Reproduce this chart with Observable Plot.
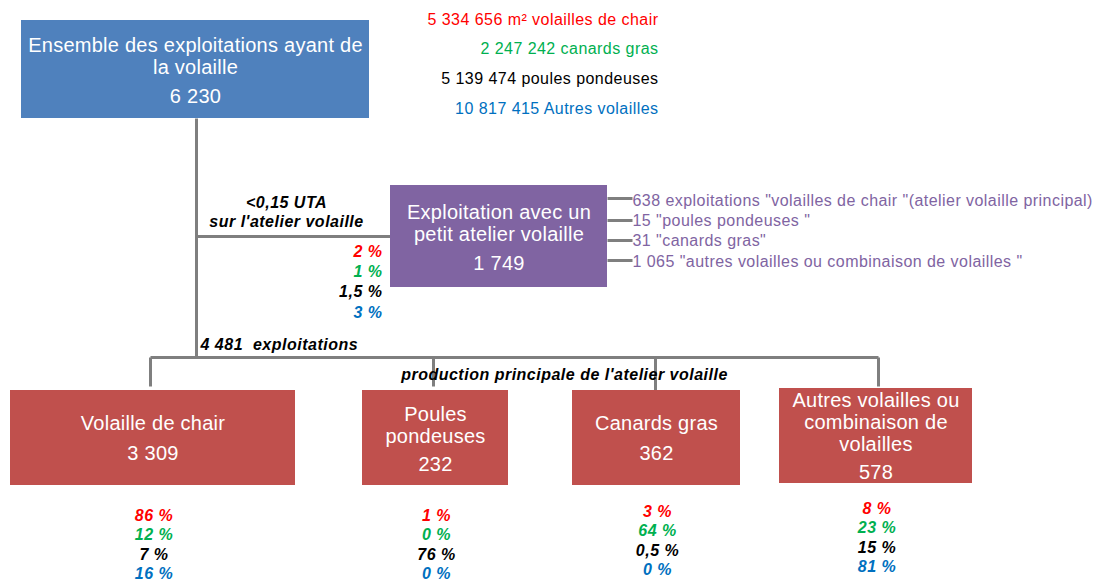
<!DOCTYPE html>
<html>
<head>
<meta charset="utf-8">
<script src="https://cdn.jsdelivr.net/npm/d3@7"></script>
<script src="https://cdn.jsdelivr.net/npm/@observablehq/plot@0.6"></script>
<style>
  html, body { margin: 0; padding: 0; background: #fff; }
  #chart svg { display: block; }
</style>
</head>
<body>
<div id="chart"></div>
<script>
// ---------- DATA ----------
const totalLabel = "Ensemble des exploitations ayant de\nla volaille";
const totalCount = 6230;
const seriesNames = ["volailles de chair", "canards gras", "poules pondeuses", "Autres volailles"];
const seriesColors = ["#FF0000", "#00B050", "#000000", "#0070C0"];
const summaryLabels = ["5 334 656 m² volailles de chair", "2 247 242 canards gras", "5 139 474 poules pondeuses", "10 817 415 Autres volailles"];

const smallLabel = "Exploitation avec un\npetit atelier volaille";
const smallCount = 1749;
const smallCondition = "<0,15 UTA\nsur l'atelier volaille";
const smallPct = [2, 1, 1.5, 3];
const smallBreakdown = [
  "638 exploitations \"volailles de chair \"(atelier volaille principal)",
  "15 \"poules pondeuses \"",
  "31 \"canards gras\"",
  "1 065 \"autres volailles ou combinaison de volailles \""
];

const mainCountLabel = "4 481  exploitations";
const mainCaption = "production principale de l'atelier volaille";
const mainCategories = ["Volaille de chair", "Poules\npondeuses", "Canards gras", "Autres volailles ou\ncombinaison de\nvolailles"];
const mainCounts = [3309, 232, 362, 578];
// share of each series (rows: chair, canards, poules, autres) per category
const pctChair   = [86, 1, 3, 8];
const pctCanards = [12, 0, 64, 23];
const pctPoules  = [7, 76, 0.5, 15];
const pctAutres  = [16, 0, 0, 81];

// ---------- LAYOUT (diagram geometry) ----------
const W = 1094, H = 581;
const fr = d3.formatLocale({decimal: ",", thousands: " ", grouping: [3]});
const fmtN = fr.format(",d");
const fmtP = v => fr.format(",")(v) + " %";

const topBox = {x1: 21, x2: 369, y1: 20, y2: 118, fill: "#4F81BD"};
const midBox = {x1: 390, x2: 607, y1: 185, y2: 287, fill: "#8064A2"};
const botBoxes = [
  {x1: 10, x2: 295, y1: 390, y2: 485, ly: 422, cy: 452, py: 515},
  {x1: 362, x2: 508, y1: 390, y2: 485, ly: 424, cy: 463, py: 515},
  {x1: 572, x2: 740, y1: 390, y2: 485, ly: 422, cy: 452, py: 511},
  {x1: 779, x2: 972, y1: 388, y2: 483, ly: 421, cy: 471, py: 508}
];
const dropX = [150, 433, 655, 878];

const boxes = [topBox, midBox, ...botBoxes.map(b => ({...b, fill: "#C0504D"}))];

const links = [
  {x1: 196, y1: 118, x2: 196, y2: 357},
  {x1: 196, y1: 236, x2: 390, y2: 236},
  {x1: 150, y1: 357, x2: 878, y2: 357},
  ...dropX.map((x, i) => ({x1: x, y1: 357, x2: x, y2: i === 2 ? 392 : 386})),
  ...[198, 220, 240, 260].map(y => ({x1: 607, y1: y, x2: 632, y2: y}))
];

const summaryTexts = summaryLabels.map((t, i) => ({t, x: 658, y: 19 + i * 29.7, c: seriesColors[i]}));
const breakdownTexts = smallBreakdown.map((t, i) => ({t, x: 632, y: [200, 220, 240, 261][i]}));
const smallPctTexts = smallPct.map((v, i) => ({t: fmtP(v), x: 382, y: 251 + i * 20.3, c: seriesColors[i]}));

const pctRows = [pctChair, pctCanards, pctPoules, pctAutres];
const botPctTexts = [];
botBoxes.forEach((b, j) => {
  pctRows.forEach((row, i) => {
    botPctTexts.push({t: fmtP(row[j]), x: (b.x1 + b.x2) / 2 + 1, y: b.py + i * 19.5, c: seriesColors[i]});
  });
});

const boxLabels = [
  {t: totalLabel, x: (topBox.x1 + topBox.x2) / 2, y: 55},
  {t: fmtN(totalCount), x: (topBox.x1 + topBox.x2) / 2, y: 95},
  {t: smallLabel, x: (midBox.x1 + midBox.x2) / 2, y: 222},
  {t: fmtN(smallCount), x: (midBox.x1 + midBox.x2) / 2, y: 262},
  ...botBoxes.flatMap((b, j) => [
    {t: mainCategories[j], x: (b.x1 + b.x2) / 2, y: b.ly},
    {t: fmtN(mainCounts[j]), x: (b.x1 + b.x2) / 2, y: b.cy}
  ])
];

const font = "Liberation Sans, Arial, sans-serif";
const boldItalic = {fontWeight: "bold", fontStyle: "italic", fontSize: 16, fontFamily: font};
const plain = {fontSize: 16, fontFamily: font};

const chart = Plot.plot({
  width: W,
  height: H,
  margin: 0,
  x: {domain: [0, W], range: [0, W], axis: null},
  y: {domain: [0, H], range: [0, H], axis: null},
  style: {fontFamily: font, background: "#fff"},
  marks: [
    Plot.link(links, {x1: "x1", y1: "y1", x2: "x2", y2: "y2", stroke: "#7F7F7F", strokeWidth: 3}),
    Plot.rect(boxes, {x1: "x1", x2: "x2", y1: "y1", y2: "y2", fill: d => d.fill}),
    Plot.text(boxLabels, {x: "x", y: "y", text: "t", fill: "#fff", fontSize: 20, lineHeight: 1.1, lineAnchor: "middle", textAnchor: "middle", fontFamily: font}),
    Plot.text(summaryTexts, {x: "x", y: "y", text: "t", fill: d => d.c, textAnchor: "end", lineAnchor: "middle", ...plain}),
    Plot.text(breakdownTexts, {x: "x", y: "y", text: "t", fill: "#8064A2", textAnchor: "start", lineAnchor: "middle", ...plain}),
    Plot.text([{t: smallCondition, x: 286, y: 211}], {x: "x", y: "y", text: "t", fill: "#000", textAnchor: "middle", lineAnchor: "middle", lineHeight: 1.2, ...boldItalic}),
    Plot.text(smallPctTexts, {x: "x", y: "y", text: "t", fill: d => d.c, textAnchor: "end", lineAnchor: "middle", ...boldItalic}),
    Plot.text([{t: mainCountLabel, x: 200, y: 344}], {x: "x", y: "y", text: "t", fill: "#000", textAnchor: "start", lineAnchor: "middle", ...boldItalic}),
    Plot.text([{t: mainCaption, x: 564, y: 374}], {x: "x", y: "y", text: "t", fill: "#000", textAnchor: "middle", lineAnchor: "middle", ...boldItalic}),
    Plot.text(botPctTexts, {x: "x", y: "y", text: "t", fill: d => d.c, textAnchor: "middle", lineAnchor: "middle", ...boldItalic})
  ]
});
// letter spacing tuning (applied to the rendered text groups)
const svg = d3.select(chart);
svg.selectAll('g[font-size="20"]').attr("letter-spacing", "0.25px");
svg.selectAll('g[font-size="16"]').attr("letter-spacing", "0.45px").style("white-space", "pre");
svg.selectAll('g[font-style="italic"]').attr("letter-spacing", "0.5px");
document.getElementById("chart").appendChild(chart);
</script>
</body>
</html>
